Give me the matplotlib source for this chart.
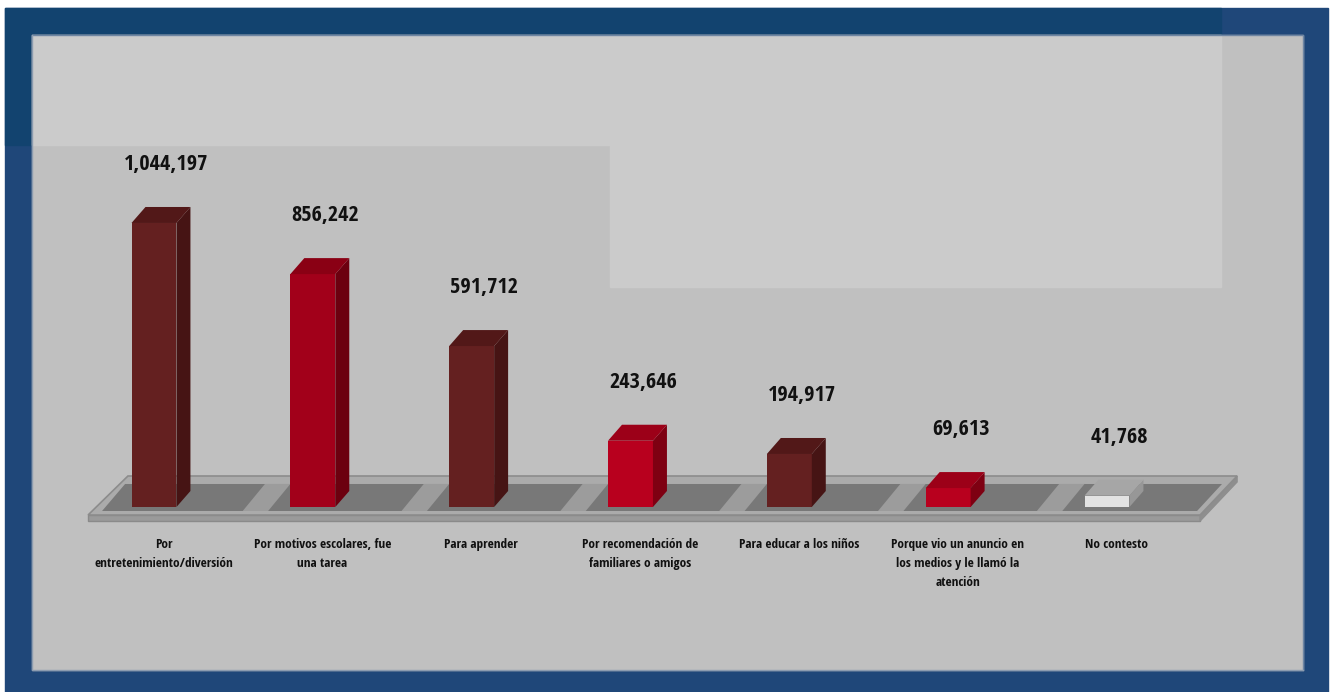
import matplotlib
matplotlib.use("Agg")
import matplotlib.pyplot as plt
from matplotlib.patches import Rectangle, Polygon
from matplotlib import font_manager
import numpy as np

categories = [
    "Por\nentretenimiento/diversión",
    "Por motivos escolares, fue\nuna tarea",
    "Para aprender",
    "Por recomendación de\nfamiliares o amigos",
    "Para educar a los niños",
    "Porque vio un anuncio en\nlos medios y le llamó la\natención",
    "No contesto",
]
values = [1044197, 856242, 591712, 243646, 194917, 69613, 41768]
value_labels = ["1,044,197", "856,242", "591,712", "243,646", "194,917", "69,613", "41,768"]

# front / top / side shades for each bar
front_colors = ["#642020", "#A2001A", "#642020", "#B8001E", "#642020", "#B8001E", "#E2E2E2"]
top_colors = ["#521818", "#8A0014", "#521818", "#9C0018", "#521818", "#9C0018", "#A6A6A6"]
side_colors = ["#461414", "#6C000F", "#461414", "#7E0012", "#461414", "#7E0012", "#979797"]

W = 0.283       # bar width (category units)
DX = 0.088      # depth offset, x
DY = 58800      # depth offset, y

# pick a narrow face if one is around
names = {f.name for f in font_manager.fontManager.ttflist}
narrow = [n for n in ["Liberation Sans Narrow", "DejaVu Sans Condensed", "Open Sans Condensed",
                      "Roboto Condensed"] if n in names]
label_font = narrow[:1] + ["DejaVu Sans"]

fig = plt.figure(figsize=(13.34, 6.92), dpi=100)
fig.patch.set_facecolor("white")

# frame and panel background, in pixel units
bg = fig.add_axes([0, 0, 1, 1])
bg.set_xlim(0, 1334)
bg.set_ylim(692, 0)
bg.axis("off")
bg.add_patch(Rectangle((5, 8), 1323, 684, color="#1F4779"))
bg.add_patch(Rectangle((5, 8), 1216, 137, color="#12436F"))
bg.add_patch(Rectangle((32, 35), 1271, 635, color="#C0C0C0"))
bg.add_patch(Rectangle((32, 35), 1189, 110, color="#CBCBCB"))
bg.add_patch(Rectangle((610, 145), 611, 142, color="#CBCBCB"))
bg.plot([32, 1303, 1303], [35, 35, 670], color="#6F86A3", lw=1)
bg.plot([32, 32, 1303], [35, 670, 670], color="#8C9CB0", lw=1)

ax = fig.add_axes([32 / 1334, 22 / 692, 1271 / 1334, 635 / 692])
ax.set_xlim(-0.768, 7.234)
ax.set_ylim(-599265, 1735294)
ax.axis("off")

# floor slab
ax.add_patch(Polygon([(-0.415, -29400), (6.586, -29400), (6.586, -51500), (-0.415, -51500)],
                     closed=True, color="#9A9A9A", ec="#8A8A8A", lw=1))
ax.add_patch(Polygon([(6.586, -29400), (6.819, 114000), (6.819, 92000), (6.586, -51500)],
                     closed=True, color="#8E8E8E"))
ax.add_patch(Polygon([(-0.415, -29400), (-0.164, 114000), (6.819, 114000), (6.586, -29400)],
                     closed=True, fc="#ABABAB", ec="#8C8C8C", lw=1.2))
ax.add_patch(Polygon([(-0.327, -14700), (-0.182, 84600), (6.724, 84600), (6.567, -14700)],
                     closed=True, fc="#787878", ec="none"))

x = np.arange(len(values))
for i in range(1, len(values)):
    left = x[i] - W / 2
    ax.add_patch(Polygon([(left - 0.30, -14700), (left - 0.14, -14700),
                          (left + 0.00, 84600), (left - 0.16, 84600)],
                         closed=True, fc="#9C9C9C", ec="none"))

# bars: front faces through ax.bar, then side and top faces
ax.bar(x, values, width=W, color=front_colors, zorder=3)
for xi, v, tc, sc in zip(x, values, top_colors, side_colors):
    r = xi + W / 2
    l = xi - W / 2
    ax.add_patch(Polygon([(r, 0), (r + DX, DY), (r + DX, v + DY), (r, v)],
                         closed=True, fc=sc, ec="none", zorder=3))
    ax.add_patch(Polygon([(l, v), (r, v), (r + DX, v + DY), (l + DX, v + DY)],
                         closed=True, fc=tc, ec="none", zorder=3))

for xi, v, lab in zip(x, values, value_labels):
    ax.annotate(lab, (xi, v), xytext=(9, 42), textcoords="offset points",
                ha="center", va="center", fontsize=16, fontweight="bold",
                family=label_font, fontstretch="condensed", color="#111111")

for xi, cat in zip(x, categories):
    ax.text(xi + 0.06, -115000, cat, ha="center", va="top", fontsize=9.5,
            fontweight="bold", family=label_font, fontstretch="condensed",
            color="#111111", linespacing=1.6)

fig.savefig("out.png", dpi=100)
